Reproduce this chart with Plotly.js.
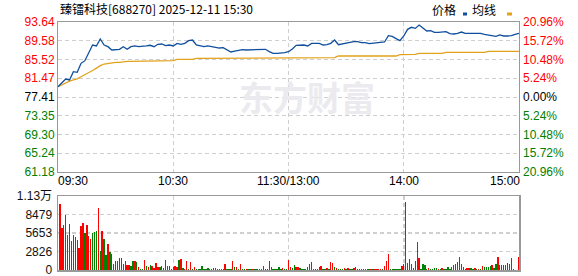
<!DOCTYPE html>
<html><head><meta charset="utf-8">
<script src="https://cdn.plot.ly/plotly-3.0.1.min.js"></script>
<style>html,body{margin:0;padding:0;background:#fff;}#chart{width:578px;height:276px;}</style>
</head><body><div id="chart"></div>
<script>
// ---- data ----
const titleText = '臻镭科技[688270] 2025-12-11 15:30';
const prevClose = 77.41;
const priceTicks = [93.64, 89.58, 85.52, 81.47, 77.41, 73.35, 69.30, 65.24, 61.18];
const priceTickText = ['93.64','89.58','85.52','81.47','77.41','73.35','69.30','65.24','61.18'];
const pctTicks = [20.96, 15.72, 10.48, 5.24, 0, -5.24, -10.48, -15.72, -20.96];
const pctTickText = ['20.96%','15.72%','10.48%','5.24%','0.00%','5.24%','10.48%','15.72%','20.96%'];
const volTicks = [0, 2826.25, 5652.5, 8478.75, 11305];
const volTickText = ['0','2826','5653','8479','1.13万'];
const timeTicks = [0, 60, 120, 180, 240];
const timeLabels = ['09:30','10:30','11:30/13:00','14:00','15:00'];

// price sampled every 2 minutes (09:30 .. 15:00, 241 trading minutes)
const price = [
79.64,80.59,81.30,81.10,82.90,82.75,84.70,85.27,86.87,88.66,
88.45,89.96,88.66,88.30,87.58,87.58,87.73,88.30,87.73,88.30,
88.45,88.30,88.30,88.45,88.60,88.30,88.81,88.88,88.52,88.66,
88.45,89.02,88.80,89.02,89.60,89.74,88.66,88.52,88.30,88.45,
88.30,88.16,88.01,88.08,87.58,87.15,87.36,87.58,87.65,87.58,
87.58,87.58,87.73,87.73,87.73,87.22,86.86,86.86,86.86,87.00,
87.22,87.80,88.59,88.66,88.66,88.45,89.02,89.02,89.02,88.66,
88.73,89.02,89.74,88.73,88.95,89.02,89.24,89.38,89.38,89.16,
89.16,88.95,89.02,89.16,89.16,89.31,90.68,90.54,90.04,89.60,
90.61,92.05,92.49,92.26,92.99,92.40,91.69,91.76,91.40,91.40,
91.40,91.55,91.11,91.04,91.19,91.47,91.19,91.19,91.19,91.11,
91.19,90.97,90.83,90.83,90.54,90.83,90.61,90.61,90.68,90.97,
91.19];
const avgPrice = [
79.64,80.10,80.50,80.85,81.10,81.35,81.80,82.20,82.65,83.15,
83.65,84.20,84.55,84.70,84.85,84.91,84.91,85.05,85.12,85.12,
85.12,85.12,85.12,85.27,85.27,85.27,85.27,85.27,85.27,85.27,
85.27,85.56,85.56,85.56,85.56,85.56,85.77,85.77,85.77,85.77,
85.77,85.77,85.77,85.77,85.77,85.77,85.77,85.77,85.77,85.77,
85.77,85.77,85.77,85.77,85.77,85.77,85.77,85.77,85.77,85.77,
85.77,85.92,85.92,85.92,85.92,85.92,85.92,85.92,85.92,85.92,
85.92,85.92,85.92,86.28,86.28,86.28,86.28,86.28,86.28,86.28,
86.28,86.28,86.28,86.28,86.28,86.28,86.28,86.28,86.28,86.57,
86.57,86.64,86.64,86.64,86.86,86.86,86.86,86.86,86.86,86.86,
86.86,87.08,87.08,87.08,87.08,87.08,87.08,87.08,87.08,87.08,
87.08,87.08,87.29,87.29,87.29,87.29,87.29,87.29,87.29,87.29,
87.29];
// per-minute volume (09:31 .. 15:00)
const volume = [
10078,6413,6872,8399,5345,7024,4428,5345,5039,4581,
3410,6719,7177,5701,6872,5192,4785,5701,5854,5955,
9467,2901,5955,4785,2291,3970,2749,2443,916,1374,
1374,1832,1832,916,1374,764,764,611,1374,1374,
1222,458,153,204,1527,611,458,764,611,356,
1069,458,458,611,305,1527,611,611,204,458,
611,458,1527,1680,305,153,1374,153,1222,153,
458,153,153,153,611,153,153,305,153,153,
305,305,153,153,153,153,916,153,153,153,
1374,458,458,153,916,153,153,153,153,153,
153,153,153,153,153,153,611,153,153,1374,
458,153,153,153,458,153,305,153,153,1527,
407,254,713,509,509,305,153,153,153,407,
916,1222,153,153,153,407,611,153,153,305,
153,1222,1069,407,305,153,153,153,305,153,
305,153,153,254,458,153,153,153,153,153,
153,153,153,153,153,153,153,153,153,611,
1374,2443,153,153,153,153,153,153,611,916,
10384,1069,1680,916,305,1374,4276,1832,153,916,
713,153,305,153,153,305,305,153,153,305,
153,153,407,153,407,713,916,1222,1985,916,
458,153,305,305,305,153,305,153,153,153,
611,458,458,458,611,764,305,916,1985,764,
764,764,764,1069,916,1832,153,0,0,1985];
// direction of each minute: u = up (red), d = down (green)
const dirs = [
'u','u','d','u','d','u','u','u','d','u',
'u','u','u','d','u','u','u','d','d','d',
'u','d','u','d','d','u','d','u','d','d',
'u','d','d','d','d','u','u','d','d','u',
'd','u','d','d','u','d','u','d','u','u',
'u','u','d','d','u','d','u','u','d','u',
'u','u','d','u','d','u','u','d','u','d',
'u','d','d','d','d','d','d','d','u','d',
'd','u','d','d','d','d','u','d','d','d',
'u','d','u','d','u','d','d','u','d','d',
'u','d','d','u','d','d','u','d','d','u',
'd','d','d','d','d','d','u','d','d','u',
'u','d','d','u','u','d','d','d','d','u',
'u','u','d','d','d','d','u','d','d','u',
'd','u','u','d','u','d','d','d','u','d',
'u','d','d','u','u','d','d','d','d','d',
'd','d','u','d','u','u','u','u','d','u',
'u','u','d','d','d','d','d','d','u','u',
'u','d','u','d','d','d','u','u','d','d',
'd','d','u','d','d','d','d','u','d','u',
'd','d','d','d','d','d','u','u','u','d',
'u','d','u','u','d','d','u','d','u','d',
'u','d','d','d','d','u','d','d','u','d',
'd','d','d','d','d','u','d','d','d','u'];

const UP = '#ff0000', DOWN = '#008000', LINE = '#0f4f9e', AVG = '#e2a21c';
const priceX = price.map((_, i) => i * 2);
const volX = volume.map((_, i) => i + 1);
const pct = price.map(p => (p - prevClose) / prevClose * 100);
const colorOf = i => (i < 4 ? UP : i === 4 ? '#000000' : DOWN);
const colored = (arr) => arr.map((t, i) => '<span style="color:' + colorOf(i) + '">' + t + '</span>');

const W = 578, H = 276;
const px = x => x / W, py = y => (H - y) / H;
const xDom = [px(58), px(519)];
const fontFam = 'Liberation Sans, Arial, Noto Sans CJK SC, sans-serif';
const cjk = 'Noto Sans CJK SC, Liberation Sans, sans-serif';

const traces = [
  {x: priceX, y: avgPrice, type: 'scatter', mode: 'lines', line: {color: AVG, width: 1.3}, xaxis: 'x', yaxis: 'y', hoverinfo: 'skip'},
  {x: priceX, y: price, type: 'scatter', mode: 'lines', line: {color: LINE, width: 1.3}, xaxis: 'x', yaxis: 'y', hoverinfo: 'skip'},
  {x: priceX, y: pct, type: 'scatter', mode: 'lines', line: {color: 'rgba(0,0,0,0)', width: 0}, xaxis: 'x', yaxis: 'y3', hoverinfo: 'skip'},
  {x: volX, y: volume, type: 'bar', width: 0.72, marker: {color: dirs.map(d => d === 'u' ? UP : DOWN), line: {width: 0}}, xaxis: 'x2', yaxis: 'y2', hoverinfo: 'skip'}
];

const gridCommon = {gridcolor: '#cfcfcf', griddash: '4px,3px', zeroline: false, showline: true, mirror: true, linecolor: '#999999', ticks: ''};

const annotations = timeTicks.map((t, i) => ({
  x: t, xref: 'x', y: py(181.5), yref: 'paper', text: timeLabels[i], showarrow: false,
  xanchor: i === 0 ? 'left' : (i === timeTicks.length - 1 ? 'right' : 'center'), yanchor: 'middle',
  xshift: i === 0 ? -2 : (i === timeTicks.length - 1 ? 3 : 0),
  font: {family: fontFam, size: 12, color: '#000'}
}));
annotations.push(
  {x: px(58), xref: 'paper', y: py(8.5), yref: 'paper', text: titleText, showarrow: false, xanchor: 'left', yanchor: 'middle', font: {family: cjk, size: 12, color: '#000'}},
  {x: px(430), xref: 'paper', y: py(9.5), yref: 'paper', text: '价格', showarrow: false, xanchor: 'left', yanchor: 'middle', font: {family: cjk, size: 12, color: '#000'}},
  {x: px(470), xref: 'paper', y: py(9.5), yref: 'paper', text: '均线', showarrow: false, xanchor: 'left', yanchor: 'middle', font: {family: cjk, size: 12, color: '#000'}},
  {x: px(307), xref: 'paper', y: py(96), yref: 'paper', text: '<b>东方财富</b>', showarrow: false, xanchor: 'center', yanchor: 'middle', font: {family: cjk, size: 34, color: '#ebebef'}}
);

const layout = {
  width: W, height: H, margin: {l: 0, r: 0, t: 0, b: 0}, paper_bgcolor: '#fff', plot_bgcolor: '#fff',
  showlegend: false, bargap: 0,
  font: {family: fontFam, size: 12, color: '#000'},
  xaxis: Object.assign({domain: xDom, anchor: 'y', range: [0, 240], tickvals: [60, 120, 180], showticklabels: false, showgrid: true, linewidth: 1}, gridCommon),
  yaxis: Object.assign({domain: [py(172), py(22)], anchor: 'x', range: [61.18, 93.64], tickvals: priceTicks, ticktext: colored(priceTickText), showgrid: true, linewidth: 1, tickfont: {family: fontFam, size: 12}, ticklabeloverflow: 'allow'}, gridCommon),
  yaxis3: {overlaying: 'y', anchor: 'x', side: 'right', range: [-20.96, 20.96], tickvals: pctTicks, ticktext: colored(pctTickText), showgrid: false, zeroline: false, showline: false, ticks: '', ticklabelstandoff: 3, ticklabeloverflow: 'allow', tickfont: {family: fontFam, size: 12}},
  xaxis2: Object.assign({domain: xDom, anchor: 'y2', range: [0, 240], tickvals: [60, 120, 180], showticklabels: false, showgrid: true, linewidth: 1.5, gridwidth: 1.5}, gridCommon),
  yaxis2: Object.assign({domain: [py(270), py(196)], anchor: 'x2', range: [0, 11305], tickvals: volTicks, ticktext: volTickText, showgrid: true, linewidth: 1.5, gridwidth: 1.5, ticklabelstandoff: 2, ticklabeloverflow: 'allow', tickfont: {family: fontFam, size: 12, color: '#111'}}, gridCommon),
  annotations: annotations,
  shapes: [
    {type: 'rect', xref: 'paper', yref: 'paper', x0: px(463), x1: px(467), y0: py(15.5), y1: py(12.5), fillcolor: LINE, line: {width: 0}},
    {type: 'rect', xref: 'paper', yref: 'paper', x0: px(507), x1: px(512), y0: py(15.5), y1: py(12.5), fillcolor: AVG, line: {width: 0}}
  ]
};

Plotly.newPlot('chart', traces, layout, {staticPlot: true, displayModeBar: false});
</script>
</body></html>
